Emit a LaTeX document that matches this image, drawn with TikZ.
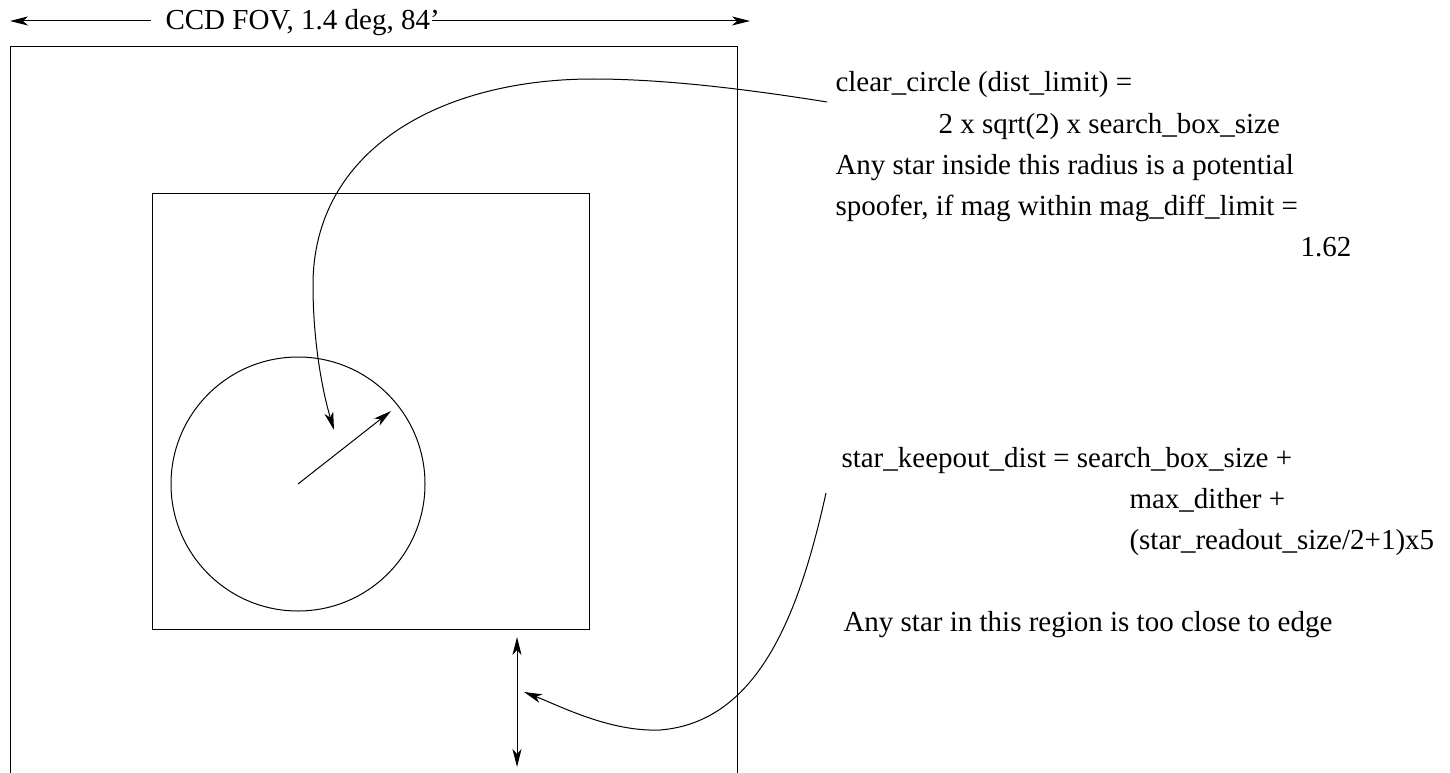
\documentclass[tikz,border=0pt]{standalone}
\usepackage{fontspec}
\setmainfont{Liberation Serif}
\usetikzlibrary{arrows.meta}
\begin{document}
\begin{tikzpicture}[x=1pt,y=-1pt, line width=1pt,
  tip/.style={-{Stealth[length=18pt,width=9pt,inset=5pt]}},
  dtip/.style={{Stealth[length=18pt,width=9pt,inset=5pt]}-{Stealth[length=18pt,width=9pt,inset=5pt]}},
  txt/.style={anchor=base west, inner sep=0pt, font=\fontsize{29}{31}\selectfont}]
\useasboundingbox (0,0) rectangle (1450,773);
% title arrow
\node[txt, inner sep=2pt] (title) at (163,30) {CCD FOV, 1.4 deg, 84'};
\coordinate (ltip) at (10,21);
\coordinate (rtip) at (750,21);
\draw[tip] ([xshift=-12pt]title.west |- ltip) -- (ltip);
\draw[tip] ([xshift=-10pt]title.east |- rtip) -- (rtip);
% outer box
\coordinate (ob1) at (10,773);
\coordinate (ob2) at (10,47);
\coordinate (ob3) at (737,47);
\coordinate (ob4) at (737,773);
\draw (ob1) -- (ob2) -- (ob3) -- (ob4);
% inner box
\node[draw, anchor=north west, minimum width=437pt, minimum height=436pt, inner sep=0pt] (inner) at (152,193) {};
% circle
\node[draw, circle, minimum size=254pt, inner sep=0pt] (circ) at (298,484) {};
\coordinate (rad) at (391,411);
\draw[tip] (circ.center) -- (rad);
% keepout double arrow
\coordinate (ka) at (517,637);
\coordinate (kb) at (517,767);
\draw[dtip] (ka) -- (kb);
% texts
\node[txt] (l1) at (835,92) {clear\_circle (dist\_limit) =};
\node[txt] (l2) at (938,133) {2 x sqrt(2) x search\_box\_size};
\node[txt] (l3) at (835,174) {Any star inside this radius is a potential};
\node[txt] (l4) at (835,215) {spoofer, if mag within mag\_diff\_limit =};
\node[txt] (l5) at (1300,256) {1.62};
\node[txt] (m1) at (841,467) {star\_keepout\_dist = search\_box\_size +};
\node[txt] (m2) at (1129,508) {max\_dither +};
\node[txt] (m3) at (1129,549) {(star\_readout\_size/2+1)x5};
\node[txt] (m4) at (843,631) {Any star in this region is too close to edge};
% curved pointers
\coordinate (c1s) at (827,102);
\coordinate (c1e) at (334,430);
\draw[tip] (c1s) .. controls (740,88) and (660,79) .. (593,79)
  .. controls (440,79) and (313,150) .. (313,285)
  .. controls (313,350) and (325,400) .. (c1e);
\coordinate (c2s) at (826,493);
\coordinate (c2e) at (524,692);
\draw[tip] (c2s) .. controls (800,610) and (760,722) .. (660,730)
  .. controls (610,732) and (560,706) .. (c2e);
\end{tikzpicture}
\end{document}
